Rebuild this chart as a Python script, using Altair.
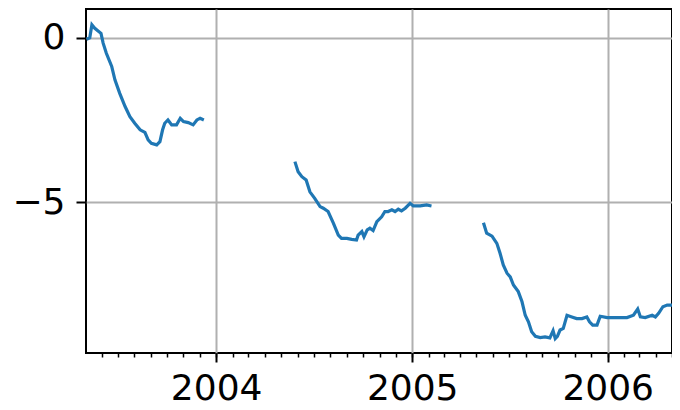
import altair as alt
import pandas as pd

seg1_dates = ["2003-05-04","2003-05-10","2003-05-14","2003-05-19","2003-05-25","2003-05-31",
              "2003-06-04","2003-06-10","2003-06-20","2003-06-26","2003-07-05","2003-07-15",
              "2003-07-24","2003-08-02","2003-08-12","2003-08-21","2003-08-27","2003-09-02",
              "2003-09-12","2003-09-18","2003-09-23","2003-09-27","2003-10-03","2003-10-10",
              "2003-10-19","2003-10-26","2003-11-01","2003-11-10","2003-11-19","2003-11-26",
              "2003-12-02","2003-12-09"]
seg1_vals = [-0.04, 0.0, 0.40, 0.30, 0.22, 0.14, -0.16, -0.47, -0.87, -1.28, -1.69, -2.09,
             -2.40, -2.60, -2.80, -2.88, -3.11, -3.21, -3.26, -3.16, -2.80, -2.60, -2.50, -2.65,
             -2.65, -2.45, -2.55, -2.58, -2.65, -2.50, -2.45, -2.50]

seg2_dates = ["2004-05-27","2004-06-02","2004-06-09","2004-06-17","2004-06-24","2004-07-03",
              "2004-07-13","2004-07-19","2004-07-28","2004-08-07","2004-08-16","2004-08-22",
              "2004-09-01","2004-09-10","2004-09-19","2004-09-22","2004-09-29","2004-10-03",
              "2004-10-09","2004-10-14","2004-10-20","2004-10-27","2004-11-05","2004-11-11",
              "2004-11-17","2004-11-24","2004-11-30","2004-12-06","2004-12-12","2004-12-19",
              "2004-12-28","2005-01-03","2005-01-16","2005-01-28","2005-02-06"]
seg2_vals = [-3.77, -4.08, -4.23, -4.33, -4.69, -4.89, -5.14, -5.19, -5.29, -5.65, -6.01, -6.11,
             -6.11, -6.14, -6.16, -6.01, -5.90, -6.06, -5.85, -5.80, -5.87, -5.60, -5.45, -5.29,
             -5.29, -5.24, -5.29, -5.22, -5.27, -5.19, -5.04, -5.12, -5.12, -5.09, -5.12]

seg3_dates = ["2005-05-14","2005-05-20","2005-05-30","2005-06-08","2005-06-14","2005-06-20",
              "2005-06-27","2005-07-03","2005-07-09","2005-07-18","2005-07-25","2005-07-31",
              "2005-08-06","2005-08-12","2005-08-19","2005-08-28","2005-09-06","2005-09-15",
              "2005-09-21","2005-09-25","2005-09-29","2005-10-04","2005-10-10","2005-10-17",
              "2005-10-26","2005-11-04","2005-11-14","2005-11-23","2005-11-28","2005-12-04",
              "2005-12-12","2005-12-18","2005-12-31","2006-01-18","2006-02-06","2006-02-18",
              "2006-02-26","2006-03-03","2006-03-12","2006-03-25","2006-03-31","2006-04-06",
              "2006-04-14","2006-04-22","2006-05-01","2006-05-10","2006-05-20"]
seg3_vals = [-5.63, -5.95, -6.04, -6.26, -6.56, -6.92, -7.17, -7.28, -7.53, -7.73, -8.04, -8.45,
             -8.65, -8.95, -9.09, -9.13, -9.11, -9.14, -8.92, -9.16, -9.09, -8.90, -8.85, -8.45,
             -8.50, -8.55, -8.55, -8.50, -8.65, -8.75, -8.75, -8.48, -8.52, -8.52, -8.52, -8.45,
             -8.26, -8.50, -8.52, -8.45, -8.50, -8.39, -8.19, -8.14, -8.14, -8.11, -8.10]

y_ticks = [0, -5]
year_ticks = [2004, 2005, 2006]

rows = []
for seg, (ds, vs) in enumerate([(seg1_dates, seg1_vals), (seg2_dates, seg2_vals), (seg3_dates, seg3_vals)]):
    for d, v in zip(ds, vs):
        rows.append({"date": d, "value": v, "seg": seg})
df = pd.DataFrame(rows)

x_domain = [alt.DateTime(year=2003, month=5, date=3), alt.DateTime(year=2006, month=5, date=1)]
x_scale = alt.Scale(domain=x_domain)
y_scale = alt.Scale(domain=[-9.6, 0.88], nice=False, zero=False)

major = alt.Chart(df).mark_line(color="#1f77b4", strokeWidth=3.2, clip=True).encode(
    x=alt.X("date:T", scale=x_scale, title=None,
            axis=alt.Axis(values=[alt.DateTime(year=y, month=1, date=1) for y in year_ticks],
                          format="%Y", orient="bottom", grid=True, gridColor="#b0b0b0",
                          gridWidth=2, domain=False, tickColor="black", tickWidth=2,
                          tickSize=9, labelFontSize=36, labelFont="DejaVu Sans",
                          labelColor="black", labelPadding=9, labelFlush=False)),
    y=alt.Y("value:Q", scale=y_scale, title=None,
            axis=alt.Axis(values=y_ticks, grid=True, gridColor="#b0b0b0", gridWidth=2,
                          domain=False, tickColor="black", tickWidth=2, tickSize=10,
                          labelFontSize=36, labelFont="DejaVu Sans", labelColor="black",
                          labelPadding=11, labelExpr="replace(datum.label, '-', '\u2212')")),
    detail="seg:N",
)

minor = alt.Chart(df).mark_line(strokeOpacity=0, clip=True).encode(
    x=alt.X("date:T", scale=x_scale, title=None,
            axis=alt.Axis(tickCount=alt.TimeIntervalStep(interval="month", step=1),
                          orient="bottom", labels=False, grid=False, domain=False,
                          tickColor="black", tickWidth=1.5, tickSize=4)),
    y=alt.Y("value:Q", scale=y_scale, axis=None),
    detail="seg:N",
)

chart = alt.layer(major, minor).resolve_axis(x="independent", y="independent").properties(
    width=586, height=344, autosize=alt.AutoSizeParams(type="none"),
    padding={"left": 78, "top": 1, "right": 0, "bottom": 54},
).configure_view(stroke="black", strokeWidth=2)

chart.save("out.html", embed_options={"renderer": "svg", "actions": False})
